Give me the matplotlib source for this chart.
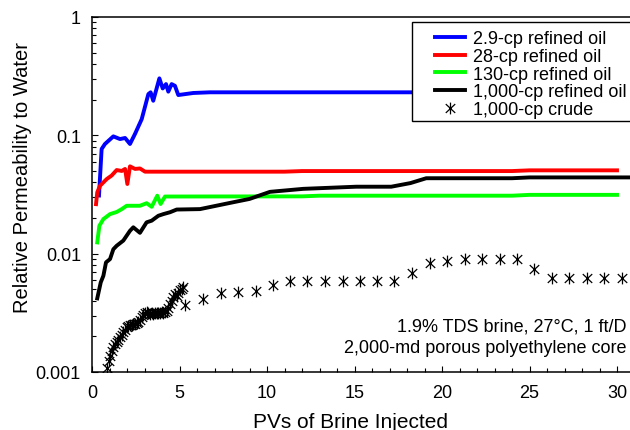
import matplotlib
matplotlib.use('Agg')
import matplotlib.pyplot as plt
import numpy as np
from matplotlib.path import Path
from matplotlib.patches import Rectangle
from matplotlib.ticker import FixedLocator, MultipleLocator, NullFormatter

plt.rcParams['font.family'] = ['Liberation Sans', 'DejaVu Sans']

# relative permeability vs. PVs injected, one series per oil
x_29 = [0.4, 0.55, 0.74, 1.22, 1.6, 1.89, 2.17, 2.46, 2.84, 3.22, 3.35, 3.5, 3.85, 4.04,
        4.23, 4.36, 4.55, 4.74, 4.93, 5.79, 6.74, 30.0]
k_29 = [0.031, 0.0766, 0.0845, 0.098, 0.093, 0.095, 0.0845, 0.103, 0.137, 0.223, 0.231,
        0.196, 0.303, 0.249, 0.271, 0.234, 0.271, 0.262, 0.219, 0.228, 0.231, 0.231]

x_28 = [0.23, 0.3, 0.46, 0.84, 1.12, 1.41, 1.7, 1.89, 2.02, 2.17, 2.46, 2.74, 3.03, 11.0,
        12.0, 24.0, 25.0, 30.0]
k_28 = [0.0262, 0.033, 0.0375, 0.0427, 0.0457, 0.0509, 0.050, 0.052, 0.0388, 0.0547, 0.052,
        0.0525, 0.0493, 0.0493, 0.0499, 0.0499, 0.0506, 0.0506]

x_130 = [0.3, 0.42, 0.65, 1.03, 1.41, 1.7, 1.98, 2.74, 3.12, 3.41, 3.73, 3.92, 4.17, 12.0,
         13.0, 24.0, 25.0, 30.0]
k_130 = [0.01245, 0.0172, 0.0196, 0.0216, 0.0225, 0.0238, 0.0254, 0.0254, 0.0267, 0.0249,
         0.0309, 0.0263, 0.0304, 0.0305, 0.0309, 0.0309, 0.0314, 0.0314]

x_1000 = [0.3, 0.5, 0.65, 0.8, 1.03, 1.22, 1.41, 1.79, 2.17, 2.36, 2.74, 3.12, 3.41, 3.79,
          4.08, 4.46, 4.84, 6.17, 8.07, 9.0, 10.17, 12.07, 15.1, 17.1, 18.2, 19.1, 24.0,
          25.0, 30.75]
k_1000 = [0.00419, 0.00572, 0.0065, 0.00844, 0.0090, 0.0109, 0.01166, 0.0129, 0.0156, 0.0167,
          0.0150, 0.0184, 0.019, 0.0209, 0.0216, 0.0224, 0.0236, 0.0238, 0.0272, 0.029,
          0.0333, 0.0353, 0.0368, 0.0368, 0.0395, 0.0434, 0.0434, 0.0441, 0.0441]

x_crude = [0.84, 0.95, 1.03, 1.12, 1.22, 1.32, 1.41, 1.50, 1.60, 1.70, 1.79, 1.89, 1.98,
           2.08, 2.17, 2.27, 2.36, 2.46, 2.55, 2.65, 2.74, 2.84, 2.93, 3.03, 3.12, 3.22,
           3.31, 3.41, 3.50, 3.60, 3.70, 3.79, 3.89, 3.98, 4.08, 4.17, 4.27, 4.36, 4.46,
           4.55, 4.65, 4.74, 4.84, 4.93, 5.03, 5.12, 5.22, 5.31, 6.32, 7.37, 8.36, 9.35,
           10.32, 11.31, 12.30, 13.31, 14.32, 15.31, 16.30, 17.28, 18.30, 19.31, 20.30,
           21.31, 22.30, 23.30, 24.27, 25.28, 26.27, 27.27, 28.26, 29.27, 30.26]
k_crude = [0.00108, 0.00125, 0.00137, 0.00150, 0.00162, 0.00172, 0.00178, 0.00188, 0.00196,
           0.00207, 0.00216, 0.00228, 0.00238, 0.00246, 0.00250, 0.00252, 0.00255, 0.00256,
           0.00260, 0.00264, 0.00275, 0.00290, 0.00303, 0.00315, 0.00320, 0.00318, 0.00312,
           0.00315, 0.00312, 0.00315, 0.00318, 0.00316, 0.00318, 0.00320, 0.00318, 0.00322,
           0.00325, 0.00345, 0.00375, 0.00400, 0.00430, 0.00456, 0.00440, 0.00468, 0.00490,
           0.00505, 0.00527, 0.00368, 0.00414, 0.00463, 0.00478, 0.00488, 0.00543, 0.0059,
           0.0059, 0.0059, 0.0059, 0.0059, 0.0059, 0.0059, 0.00686, 0.00828, 0.0087, 0.0090,
           0.0090, 0.0090, 0.0090, 0.00741, 0.00622, 0.00622, 0.00622, 0.00622, 0.00622]

labels = ['2.9-cp refined oil', '28-cp refined oil', '130-cp refined oil',
          '1,000-cp refined oil', '1,000-cp crude']
y_ticks = [0.001, 0.01, 0.1, 1]
y_ticklabels = ['0.001', '0.01', '0.1', '1']
notes = ['1.9% TDS brine, 27\u00b0C, 1 ft/D', '2,000-md porous polyethylene core']

# asterisk: vertical stroke plus an X
star = Path([(0, -1), (0, 1), (-0.8, -0.75), (0.8, 0.75), (-0.8, 0.75), (0.8, -0.75)],
            [Path.MOVETO, Path.LINETO, Path.MOVETO, Path.LINETO, Path.MOVETO, Path.LINETO])

fig = plt.figure(figsize=(6.3, 4.31), dpi=100)
ax = fig.add_axes([92 / 630, 58 / 431, 538 / 630, 355 / 431])

lw = 2.8
ax.plot(x_29, k_29, color='#0000ff', lw=lw, label=labels[0], solid_joinstyle='round')
ax.plot(x_28, k_28, color='#ff0000', lw=lw, label=labels[1], solid_joinstyle='round')
ax.plot(x_130, k_130, color='#00ff00', lw=lw, label=labels[2], solid_joinstyle='round')
ax.plot(x_1000, k_1000, color='black', lw=lw, label=labels[3], solid_joinstyle='round')
ax.plot(x_crude, k_crude, ls='none', marker=star, ms=8.5, mec='black', mfc='none', mew=0.9,
        color='black', label=labels[4])

ax.set_yscale('log')
ax.set_ylim(0.001, 1)
ax.set_xlim(0, 538 / 17.5)

ax.xaxis.set_major_locator(MultipleLocator(5))
ax.xaxis.set_minor_locator(MultipleLocator(1))
ax.yaxis.set_major_locator(FixedLocator(y_ticks))
ax.set_yticklabels(y_ticklabels)
ax.yaxis.set_minor_formatter(NullFormatter())

ax.tick_params(which='both', direction='in', width=0.8, labelsize=13, top=False, right=False)
ax.tick_params(which='major', length=4.5)
ax.tick_params(which='minor', length=2.6)
ax.tick_params(axis='x', pad=9)
ax.tick_params(axis='y', pad=8)
ax.spines['right'].set_visible(False)
for s in ['left', 'bottom', 'top']:
    ax.spines[s].set_linewidth(1.1)

ax.set_xlabel('PVs of Brine Injected', fontsize=15)
ax.xaxis.set_label_coords(0.4805, -0.155)
ax.xaxis.label.set_va('baseline')
ax.set_ylabel('Relative Permeability to Water', fontsize=14.5)
ax.yaxis.set_label_coords(-0.130, 0.5507)
ax.yaxis.label.set_va('center')

ax.text(0.9944, 0.1304, notes[0], transform=ax.transAxes, ha='right', va='center', fontsize=13)
ax.text(0.9944, 0.0696, notes[1], transform=ax.transAxes, ha='right', va='center', fontsize=13)

# legend box drawn separately so it can run past the right edge
ax.add_patch(Rectangle((0.5948, 0.7079), 0.5, 0.2789, transform=ax.transAxes,
                       facecolor='white', edgecolor='black', lw=1.0, clip_on=False, zorder=5))
leg = ax.legend(loc='upper left', bbox_to_anchor=(0.6375, 0.9630), frameon=False,
                fontsize=13, borderpad=0, borderaxespad=0, handlelength=1.66,
                handletextpad=0.44, labelspacing=0.04, numpoints=1)
leg.set_zorder(6)

fig.savefig('out.png', dpi=100)
